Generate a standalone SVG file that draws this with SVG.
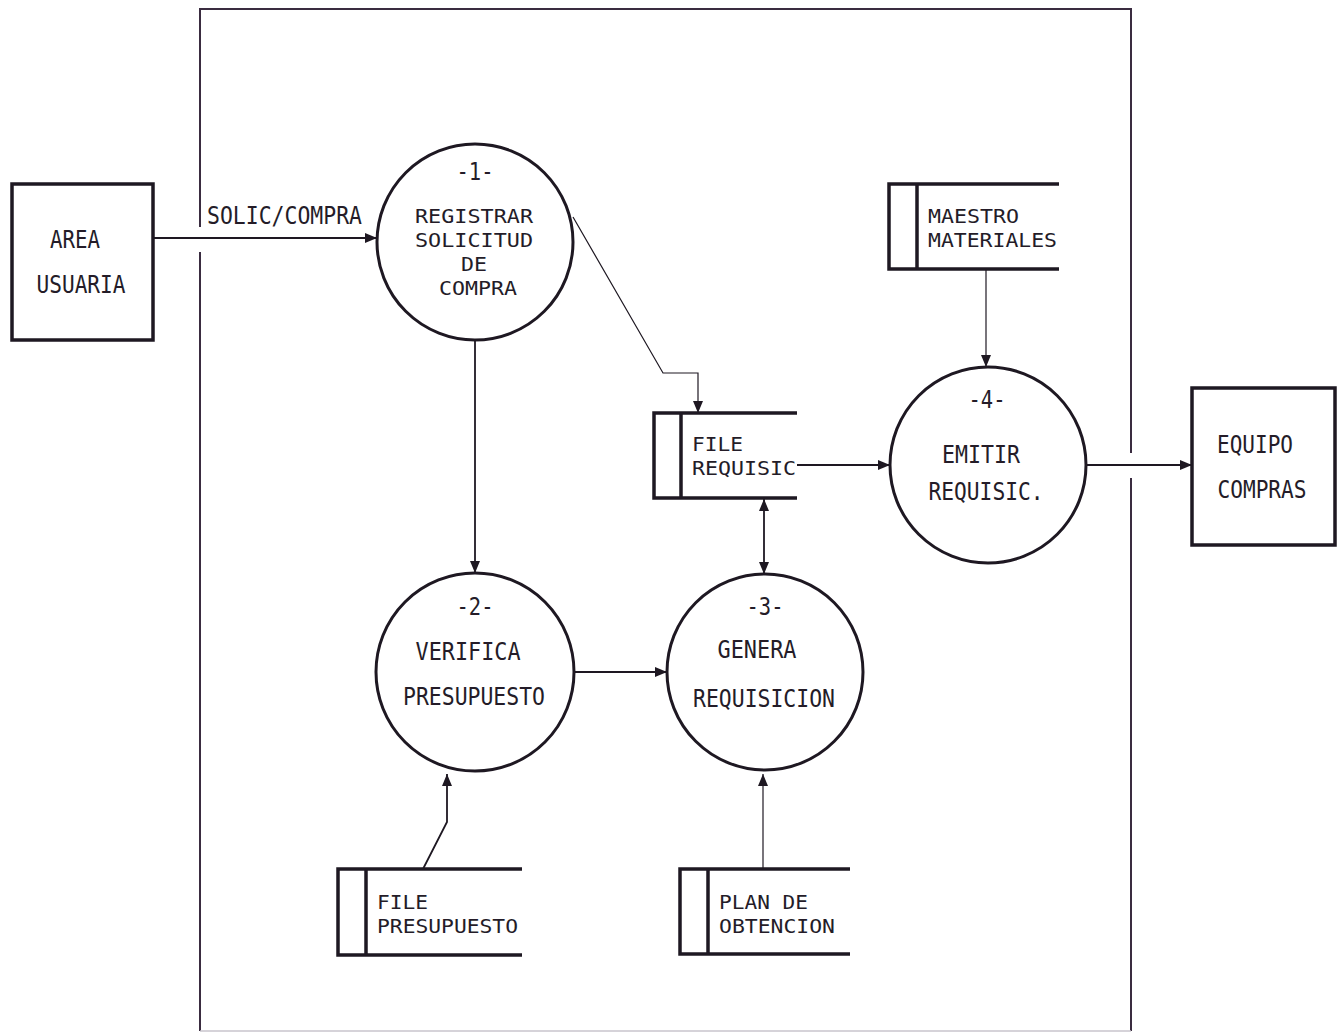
<svg xmlns="http://www.w3.org/2000/svg" width="1343" height="1035" viewBox="0 0 1343 1035">
<style>
  text { font-family: "DejaVu Sans Mono", "Liberation Mono", monospace; font-size: 24px; fill: #241c28; }
  .s { font-size: 20px; }
  .c { text-anchor: middle; }
  .box { fill: #fff; stroke: #1e1822; stroke-width: 3.5; }
  .proc { fill: #fff; stroke: #1e1822; stroke-width: 3; }
  .store { fill: none; stroke: #1e1822; stroke-width: 3.5; }
  .flow { fill: none; stroke: #1e1822; stroke-width: 1.8; }
  .thin { fill: none; stroke: #1e1822; stroke-width: 1.2; }
  .frame { fill: none; stroke: #3a2c40; stroke-width: 2; }
</style>
<defs>
  <marker id="arr" markerUnits="userSpaceOnUse" markerWidth="14" markerHeight="12" refX="12" refY="5" orient="auto">
    <path d="M0,0 L12,5 L0,10 Z" fill="#1e1822"/>
  </marker>
  <marker id="arrs" markerUnits="userSpaceOnUse" markerWidth="14" markerHeight="12" refX="0" refY="5" orient="auto">
    <path d="M12,0 L0,5 L12,10 Z" fill="#1e1822"/>
  </marker>
</defs>
<rect width="1343" height="1035" fill="#fff"/>

<g id="frame">
  <path class="frame" d="M200,227 V9 H1131 V453"/>
  <path class="frame" d="M200,252 V1031"/>
  <path class="frame" d="M1131,478 V1031"/>
  <path d="M200,1031 H1131" fill="none" stroke="#c8c4cc" stroke-width="1.5"/>
</g>

<g id="connectors">
  <path class="flow" d="M153,238 H377" marker-end="url(#arr)"/>
  <text x="207" y="224" textLength="155" lengthAdjust="spacingAndGlyphs">SOLIC/COMPRA</text>
  <path class="flow" d="M475,340 V573" marker-end="url(#arr)"/>
  <path class="thin" d="M573,217 L663,373 H698 V413" marker-end="url(#arr)"/>
  <path class="flow" d="M574,672 H667" marker-end="url(#arr)"/>
  <path class="flow" d="M797,465 H890" marker-end="url(#arr)"/>
  <path class="thin" d="M986,269 V367" marker-end="url(#arr)"/>
  <path class="flow" d="M1086,465 H1192" marker-end="url(#arr)"/>
  <path class="flow" d="M764,499 V574" marker-start="url(#arrs)" marker-end="url(#arr)"/>
  <path class="thin" d="M763,869 V774" marker-end="url(#arr)"/>
  <path class="flow" d="M423,869 L447,822 V774" marker-end="url(#arr)"/>
</g>

<g id="area-usuaria">
  <rect class="box" x="12" y="184" width="141" height="156"/>
  <text class="c" x="75" y="248" textLength="50" lengthAdjust="spacingAndGlyphs">AREA</text>
  <text class="c" x="81" y="293" textLength="89" lengthAdjust="spacingAndGlyphs">USUARIA</text>
</g>

<g id="equipo-compras">
  <rect class="box" x="1192" y="388" width="143" height="157"/>
  <text class="c" x="1255" y="453" textLength="76" lengthAdjust="spacingAndGlyphs">EQUIPO</text>
  <text class="c" x="1262" y="498" textLength="89" lengthAdjust="spacingAndGlyphs">COMPRAS</text>
</g>

<g id="proc-1">
  <circle class="proc" cx="475" cy="242" r="98"/>
  <text class="c" x="475" y="180" textLength="37" lengthAdjust="spacingAndGlyphs">-1-</text>
  <text class="c s" x="474" y="223" textLength="118" lengthAdjust="spacingAndGlyphs">REGISTRAR</text>
  <text class="c s" x="474" y="247" textLength="118" lengthAdjust="spacingAndGlyphs">SOLICITUD</text>
  <text class="c s" x="474" y="271" textLength="26" lengthAdjust="spacingAndGlyphs">DE</text>
  <text class="c s" x="478" y="295" textLength="78" lengthAdjust="spacingAndGlyphs">COMPRA</text>
</g>

<g id="proc-2">
  <circle class="proc" cx="475" cy="672" r="99"/>
  <text class="c" x="475" y="615" textLength="37" lengthAdjust="spacingAndGlyphs">-2-</text>
  <text class="c" x="468" y="660" textLength="105" lengthAdjust="spacingAndGlyphs">VERIFICA</text>
  <text class="c" x="474" y="705" textLength="142" lengthAdjust="spacingAndGlyphs">PRESUPUESTO</text>
</g>

<g id="proc-3">
  <circle class="proc" cx="765" cy="672" r="98"/>
  <text class="c" x="765" y="615" textLength="37" lengthAdjust="spacingAndGlyphs">-3-</text>
  <text class="c" x="757" y="658" textLength="79" lengthAdjust="spacingAndGlyphs">GENERA</text>
  <text class="c" x="764" y="707" textLength="142" lengthAdjust="spacingAndGlyphs">REQUISICION</text>
</g>

<g id="proc-4">
  <circle class="proc" cx="988" cy="465" r="98"/>
  <text class="c" x="987" y="408" textLength="37" lengthAdjust="spacingAndGlyphs">-4-</text>
  <text class="c" x="981" y="463" textLength="78" lengthAdjust="spacingAndGlyphs">EMITIR</text>
  <text class="c" x="986" y="500" textLength="115" lengthAdjust="spacingAndGlyphs">REQUISIC.</text>
</g>

<g id="store-maestro">
  <path class="store" d="M1059,184 H889 V269 H1059 M917,184 V269"/>
  <text class="s" x="928" y="223" textLength="91" lengthAdjust="spacingAndGlyphs">MAESTRO</text>
  <text class="s" x="928" y="247" textLength="129" lengthAdjust="spacingAndGlyphs">MATERIALES</text>
</g>

<g id="store-file-requisic">
  <path class="store" d="M797,413 H654 V498 H797 M681,413 V498"/>
  <text class="s" x="692" y="451" textLength="51" lengthAdjust="spacingAndGlyphs">FILE</text>
  <text class="s" x="692" y="475" textLength="104" lengthAdjust="spacingAndGlyphs">REQUISIC</text>
</g>

<g id="store-file-presupuesto">
  <path class="store" d="M522,869 H338 V955 H522 M366,869 V955"/>
  <text class="s" x="377" y="909" textLength="51" lengthAdjust="spacingAndGlyphs">FILE</text>
  <text class="s" x="377" y="933" textLength="141" lengthAdjust="spacingAndGlyphs">PRESUPUESTO</text>
</g>

<g id="store-plan">
  <path class="store" d="M850,869 H680 V954 H850 M708,869 V954"/>
  <text class="s" x="719" y="909" textLength="89" lengthAdjust="spacingAndGlyphs">PLAN DE</text>
  <text class="s" x="719" y="933" textLength="116" lengthAdjust="spacingAndGlyphs">OBTENCION</text>
</g>
</svg>
